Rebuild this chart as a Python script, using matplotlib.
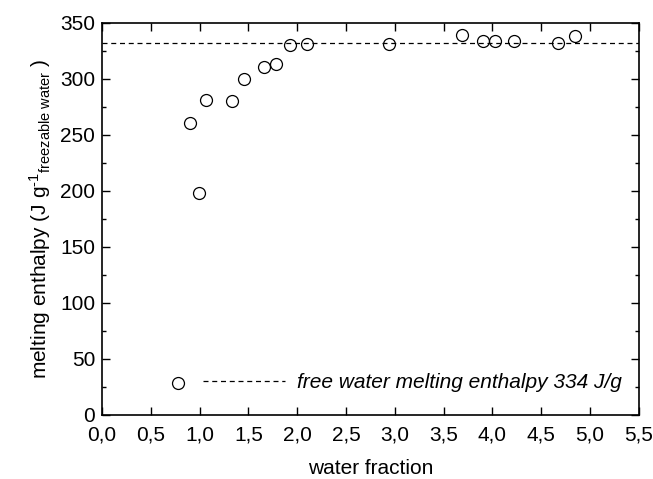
import matplotlib
matplotlib.use("Agg")
import matplotlib.pyplot as plt
from matplotlib.lines import Line2D
from matplotlib.ticker import MultipleLocator, FuncFormatter

water_fraction = [0.78, 0.90, 0.99, 1.07, 1.33, 1.46, 1.66, 1.78, 1.93, 2.10,
                  2.94, 3.69, 3.90, 4.03, 4.22, 4.67, 4.85]
enthalpy = [28, 260, 198, 281, 280, 300, 310, 313, 330, 331,
            331, 339, 334, 334, 334, 332, 338]
free_water_level = 332

plt.rcParams["font.family"] = ["Liberation Sans", "DejaVu Sans"]
plt.rcParams["mathtext.fontset"] = "custom"
plt.rcParams["mathtext.rm"] = "Liberation Sans"
plt.rcParams["mathtext.it"] = "Liberation Sans:italic"

fig = plt.figure(figsize=(6.53, 4.79), dpi=100)
ax = fig.add_axes([102 / 653, 1 - 414.7 / 479, (638.7 - 102) / 653, (414.7 - 22.7) / 479])

ax.plot(water_fraction, enthalpy, linestyle="none", marker="o", markersize=8.6,
        markerfacecolor="none", markeredgecolor="black", markeredgewidth=0.9)
ax.axhline(free_water_level, color="black", linestyle=(0, (4, 3)), linewidth=0.9)

ax.set_xlim(0, 5.5)
ax.set_ylim(0, 350)
ax.xaxis.set_major_locator(MultipleLocator(0.5))
ax.yaxis.set_major_locator(MultipleLocator(50))
ax.yaxis.set_minor_locator(MultipleLocator(25))
ax.xaxis.set_major_formatter(FuncFormatter(lambda v, p: f"{v:.1f}".replace(".", ",")))
ax.tick_params(which="both", direction="in", top=True, right=True, labelsize=15, width=1)
ax.tick_params(which="major", length=6)
ax.tick_params(which="minor", length=3)
ax.tick_params(axis="x", pad=8)
ax.tick_params(axis="y", pad=5)
for s in ax.spines.values():
    s.set_linewidth(1.2)

ax.set_xlabel("water fraction", fontsize=15, labelpad=10)
ax.set_ylabel(r"melting enthalpy (J g$^{\text{-1}}$$_{\mathregular{freezable\ water}}$ )",
              fontsize=15, labelpad=5)

handle = Line2D([], [], color="black", linestyle=(0, (4, 3)), linewidth=0.9)
leg = ax.legend([handle], ["free water melting enthalpy 334 J/g"], loc="center right",
                frameon=False, handlelength=3.9, handletextpad=0.6,
                bbox_to_anchor=((622 - 102) / 536.7, (414.7 - 383) / 392),
                borderaxespad=0, borderpad=0,
                prop={"style": "italic", "size": 15})

fig.savefig("out.png", dpi=100)
